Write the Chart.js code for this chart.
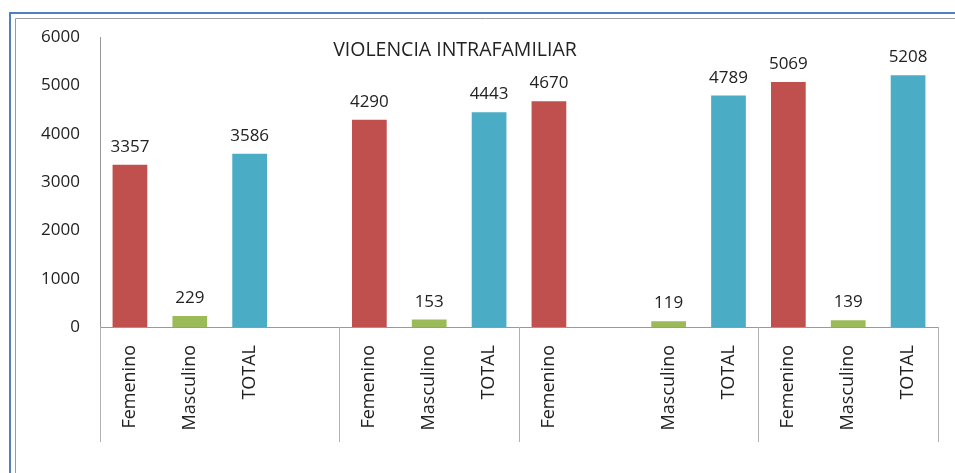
<!DOCTYPE html>
<html>
<head>
<meta charset="utf-8">
<script src="https://cdn.jsdelivr.net/npm/chart.js@4.4.1/dist/chart.umd.min.js"></script>
<style>
  html, body { margin: 0; padding: 0; background: #fff; }
  #wrap { width: 955px; height: 473px; }
</style>
</head>
<body>
<div id="wrap"><canvas id="chart" width="955" height="473"></canvas></div>
<script>
// categories (blank strings are the empty slots in the original)
const labels = [
  "Femenino", "Masculino", "TOTAL", "",
  "Femenino", "Masculino", "TOTAL",
  "Femenino", "", "Masculino", "TOTAL",
  "Femenino", "Masculino", "TOTAL"
];
const femenino = [3357, null, null, null, 4290, null, null, 4670, null, null, null, 5069, null, null];
const masculino = [null, 229, null, null, null, 153, null, null, null, 119, null, null, 139, null];
const total = [null, null, 3586, null, null, null, 4443, null, null, null, 4789, null, null, 5208];
// index boundaries where the group separators are drawn
const groupBreaks = [0, 4, 7, 11, 14];
const yTicks = [0, 1000, 2000, 3000, 4000, 5000, 6000];
const chartTitle = "VIOLENCIA INTRAFAMILIAR";

const FONT = "'Open Sans', 'Liberation Sans', sans-serif";
const TEXT = "#222";

const framePlugin = {
  id: "frame",
  beforeDraw(chart) {
    const ctx = chart.ctx;
    ctx.save();
    ctx.fillStyle = "#fff";
    ctx.fillRect(0, 0, chart.width, chart.height);
    ctx.strokeStyle = "#4f81bd";
    ctx.lineWidth = 2;
    ctx.beginPath();
    ctx.moveTo(10, chart.height);
    ctx.lineTo(10, 13);
    ctx.lineTo(chart.width, 13);
    ctx.stroke();
    ctx.strokeStyle = "#9c9c9c";
    ctx.lineWidth = 1;
    ctx.beginPath();
    ctx.moveTo(15.5, chart.height);
    ctx.lineTo(15.5, 18.5);
    ctx.lineTo(chart.width, 18.5);
    ctx.stroke();
    ctx.restore();
  }
};

const extrasPlugin = {
  id: "extras",
  afterDraw(chart) {
    const ctx = chart.ctx;
    const area = chart.chartArea;
    const x = chart.scales.x;
    const half = (x.getPixelForValue(1) - x.getPixelForValue(0)) / 2;
    ctx.save();
    // group separators below the axis
    ctx.strokeStyle = "#b0b0b0";
    ctx.lineWidth = 1;
    groupBreaks.forEach(i => {
      const px = Math.round(x.getPixelForValue(0) - half + i * half * 2) + 0.5;
      ctx.beginPath();
      ctx.moveTo(px, area.bottom);
      ctx.lineTo(px, area.bottom + 115);
      ctx.stroke();
    });
    // title inside the plot
    ctx.fillStyle = TEXT;
    ctx.font = "19.5px " + FONT;
    ctx.textAlign = "center";
    ctx.textBaseline = "middle";
    ctx.fillText(chartTitle, area.left + 355, area.top + 13);
    // value labels
    ctx.font = "17px " + FONT;
    ctx.textBaseline = "alphabetic";
    chart.data.datasets.forEach((ds, di) => {
      const meta = chart.getDatasetMeta(di);
      meta.data.forEach((bar, i) => {
        const v = ds.data[i];
        if (v === null || v === undefined) return;
        ctx.fillText(String(v), bar.x, bar.y - 13);
      });
    });
    ctx.restore();
  }
};

const common = { grouped: false, barPercentage: 0.58, categoryPercentage: 1 };

new Chart(document.getElementById("chart"), {
  type: "bar",
  data: {
    labels: labels,
    datasets: [
      { label: "Femenino", data: femenino, backgroundColor: "#c0504d", ...common },
      { label: "Masculino", data: masculino, backgroundColor: "#9bbb59", ...common },
      { label: "TOTAL", data: total, backgroundColor: "#4bacc6", ...common }
    ]
  },
  options: {
    responsive: false,
    animation: false,
    layout: { padding: { left: 0, top: 37, right: 17, bottom: 0 } },
    plugins: {
      legend: { display: false },
      tooltip: { enabled: false },
      title: { display: false }
    },
    scales: {
      x: {
        grid: { display: false, drawTicks: false },
        border: { display: true, color: "#999", width: 1 },
        ticks: {
          color: TEXT,
          font: { family: FONT, size: 18 },
          minRotation: 90,
          maxRotation: 90,
          autoSkip: false,
          padding: 18
        },
        afterFit(scale) { scale.height = 146; }
      },
      y: {
        min: 0,
        max: 6000,
        afterBuildTicks(scale) { scale.ticks = yTicks.map(v => ({ value: v })); },
        grid: { display: false, drawTicks: false },
        border: { display: true, color: "#999", width: 1 },
        ticks: {
          color: TEXT,
          font: { family: FONT, size: 17 },
          padding: 20,
          callback: v => String(v)
        },
        afterFit(scale) { scale.width = 100; }
      }
    }
  },
  plugins: [framePlugin, extrasPlugin]
});
</script>
</body>
</html>
